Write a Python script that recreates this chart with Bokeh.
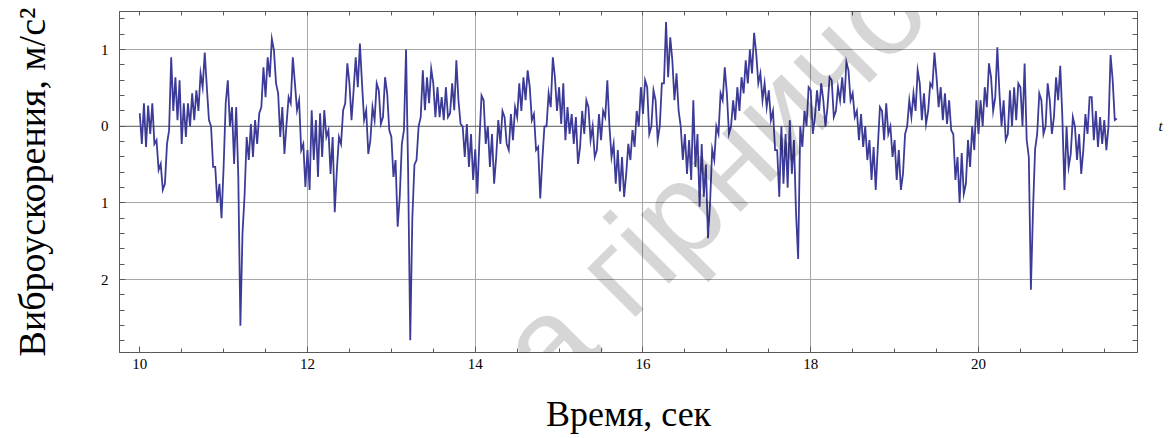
import math

from bokeh.embed import file_html
from bokeh.models import (ColumnDataSource, CustomJSTickFormatter, FixedTicker,
                          Label, LinearAxis, Range1d, Span)
from bokeh.plotting import figure
from bokeh.resources import INLINE

# Vibration acceleration record, m/s^2, sampled every 0.025 s from t = 10 s
t0 = 10.0
dt = 0.025
accel = [
    0.17, -0.23, 0.30, -0.27, 0.27, -0.10, 0.30, -0.23, -0.18, -0.57, -0.49, -0.83, -0.75, -0.23, -0.05, 0.90, 0.20, 0.64, 0.08, 0.60,
    -0.23, 0.30, -0.14, 0.30, 0.00, 0.43, 0.08, 0.47, 0.20, 0.69, 0.51, 0.96, 0.51, 0.08, 0.00, -0.53, -0.53, -1.00, -0.75, -1.20,
    -0.53, 0.30, 0.60, 0.00, 0.25, -0.49, 0.25, -0.66, -2.60, -1.40, -0.90, -0.14, -0.44, 0.03, -0.40, 0.08, -0.23, 0.17, 0.25, 0.77,
    0.38, 0.90, 0.64, 1.14, 0.99, 0.56, 0.43, -0.14, 0.25, -0.36, 0.03, 0.38, 0.30, 0.90, 0.56, 0.21, 0.34, -0.31, -0.23, -0.79,
    -0.31, -0.83, 0.21, -0.44, 0.08, -0.66, 0.17, -0.40, 0.21, -0.14, -0.05, -0.62, -0.14, -1.12, -0.57, -0.14, -0.23, 0.21, 0.30, 0.82,
    0.56, 0.08, 0.47, 0.90, 0.51, 1.08, 0.56, 0.08, 0.21, -0.36, -0.18, 0.25, 0.08, 0.56, 0.47, 0.03, 0.12, 0.64, 0.43, -0.05,
    -0.14, -0.66, -0.44, -1.31, -0.92, -0.23, -0.05, 1.00, -0.60, -2.79, -1.20, -0.50, -0.44, 0.00, 0.12, 0.73, 0.21, 0.64, 0.30, 0.75,
    0.56, 0.12, 0.51, 0.12, 0.38, 0.08, 0.51, 0.12, 0.17, 0.56, 0.21, 0.86, 0.34, 0.03, 0.00, -0.40, 0.03, -0.53, -0.10, -0.70,
    -0.30, -0.88, -0.18, 0.40, 0.34, -0.23, 0.00, -0.53, -0.10, -0.75, -0.40, 0.08, -0.23, 0.20, 0.12, -0.23, -0.31, 0.16, -0.18, 0.25,
    0.12, 0.56, 0.20, 0.64, 0.34, 0.73, 0.51, 0.08, 0.16, -0.31, -0.27, -0.94, -0.44, 0.00, 0.00, 0.43, 0.25, 0.90, 0.64, 0.20,
    0.51, 0.03, 0.56, -0.18, 0.25, -0.10, 0.16, -0.23, 0.12, -0.49, -0.27, 0.20, -0.10, 0.34, 0.25, -0.18, 0.00, -0.40, -0.31, 0.16,
    -0.18, 0.20, 0.12, 0.60, 0.00, -0.40, -0.23, -0.75, -0.31, -0.85, -0.40, -0.92, -0.62, -0.23, -0.44, -0.05, -0.27, 0.20, 0.00, 0.51,
    0.16, 0.60, 0.51, -0.10, 0.00, 0.47, 0.34, -0.18, 0.00, 0.56, 0.56, 1.36, 0.64, 1.16, 0.86, 0.34, 0.69, 0.20, 0.00, -0.44,
    -0.10, -0.62, -0.18, -0.70, 0.34, -0.53, -0.10, -1.05, -0.23, -0.92, -0.50, -1.46, -1.00, -0.30, -0.44, 0.00, -0.10, 0.43, 0.34, 0.77,
    0.43, -0.10, 0.00, 0.34, 0.08, 0.51, 0.20, 0.64, 0.43, 0.86, 0.56, 1.00, 0.69, 1.22, 0.95, 0.56, 0.69, 0.34, 0.56, 0.25,
    0.47, 0.08, 0.20, -0.31, -0.31, -0.92, 0.00, -0.75, -0.10, -0.80, 0.08, -0.62, -0.18, -1.14, -1.73, 0.00, -0.27, 0.20, 0.00, 0.51,
    0.47, -0.10, 0.12, 0.47, 0.20, 0.56, 0.34, 0.00, 0.25, 0.64, 0.60, 0.12, 0.20, 0.51, 0.34, 0.64, 0.30, 0.84, 0.73, 0.34,
    0.43, 0.12, 0.20, -0.18, 0.16, -0.27, 0.00, -0.44, -0.18, -0.70, -0.27, -0.83, -0.27, 0.25, 0.20, -0.18, 0.30, -0.10, 0.00, -0.40,
    -0.18, -0.70, -0.31, -0.83, -0.62, -0.10, 0.00, 0.34, 0.12, 0.43, 0.20, 0.73, 0.56, 0.08, 0.43, 0.03, 0.20, 0.56, 0.51, 0.96,
    0.64, 0.25, 0.51, 0.08, 0.43, 0.03, 0.34, -0.05, -0.10, -0.70, -0.40, -1.00, -0.35, -0.88, -0.75, -0.18, -0.53, 0.00, -0.31, 0.34,
    -0.10, 0.34, 0.00, 0.51, 0.25, 0.82, 0.64, 0.20, 0.38, 1.03, 0.43, 0.00, 0.34, -0.18, -0.10, 0.47, 0.00, 0.51, 0.08, 0.56,
    0.51, 0.00, 0.82, -0.18, -0.40, -2.13, -1.10, -0.30, -0.10, 0.43, 0.34, -0.10, 0.00, 0.56, 0.34, -0.10, 0.12, 0.64, 0.34, 0.79,
    0.12, -0.83, 0.00, -0.53, -0.36, 0.12, 0.00, -0.44, -0.10, -0.62, -0.31, 0.16, -0.10, 0.38, 0.38, -0.18, 0.20, -0.27, 0.12, -0.23,
    0.08, -0.31, 0.00, 0.93, 0.60, 0.08, 0.10,
]
time = [t0 + k * dt for k in range(len(accel))]

x_major = [10, 12, 14, 16, 18, 20]
x_minor = [10 + 0.5 * k for k in range(24)]
x_grid = [12, 14, 16, 18, 20]
y_major = [-2, -1, 0, 1]
y_minor = [round(-2.8 + 0.2 * k, 1) for k in range(22)]
y_grid = [-2, -1, 1]

x_title = "Время, сек"
y_title = "Виброускорения, м/с²"
stamp = "Кафедра гірничої механіки"

SERIF = "Liberation Serif"
FRAME_L, FRAME_R, FRAME_T, FRAME_B = 119, 1137, 11, 352
W, H = 1172, 438

p = figure(
    width=W, height=H,
    x_range=Range1d(9.7586, 21.896), y_range=Range1d(-2.95, 1.497),
    output_backend="svg", toolbar_location=None,
    min_border_left=FRAME_L, min_border_right=W - FRAME_R,
    min_border_top=FRAME_T, min_border_bottom=H - FRAME_B,
    x_axis_location=None, y_axis_location=None,
)
p.background_fill_color = "white"
p.border_fill_color = "white"
p.outline_line_color = "#5a5a5a"
p.outline_line_width = 1


def make_axis(ticker, minor_len):
    ax = LinearAxis(ticker=ticker)
    ax.axis_line_color = "#5a5a5a"
    ax.major_tick_line_color = "#5a5a5a"
    ax.minor_tick_line_color = "#5a5a5a"
    ax.major_tick_in = 6
    ax.major_tick_out = 0
    ax.minor_tick_in = minor_len
    ax.minor_tick_out = 0
    ax.major_label_text_font = SERIF
    ax.major_label_text_color = "black"
    ax.major_label_text_font_size = "15px"
    ax.axis_label_text_font = SERIF
    ax.axis_label_text_font_style = "normal"
    ax.axis_label_text_color = "black"
    return ax


bottom = make_axis(FixedTicker(ticks=x_major, minor_ticks=x_minor), 4)
bottom.major_label_standoff = 6
bottom.axis_label = x_title
bottom.axis_label_text_font_size = "36px"
bottom.axis_label_standoff = 22

left = make_axis(FixedTicker(ticks=y_major, minor_ticks=y_minor), 5)
left.major_label_standoff = 11
left.formatter = CustomJSTickFormatter(code="return Math.abs(tick).toFixed(0);")
left.axis_label = y_title
left.axis_label_text_font_size = "38px"
left.axis_label_standoff = 45

# Top frame edge: unlabelled ticks only
top = make_axis(FixedTicker(ticks=[], minor_ticks=x_minor), 4)

# Right frame edge: unlabelled ticks, plus the italic t marker beside the zero line
right_minor = [v for v in y_minor] + [v for v in y_major if v != 0]
right = make_axis(FixedTicker(ticks=[0], minor_ticks=right_minor), 5)
right.formatter = CustomJSTickFormatter(code='return "t";')
right.major_label_text_font_style = "italic"
right.major_label_standoff = 21

p.add_layout(bottom, "below")
p.add_layout(left, "left")
p.add_layout(top, "above")
p.add_layout(right, "right")

p.xgrid.ticker = FixedTicker(ticks=x_grid)
p.ygrid.ticker = FixedTicker(ticks=y_grid)
for g in (p.xgrid, p.ygrid):
    g.grid_line_color = "#a6a6a6"
    g.grid_line_width = 1

p.add_layout(Span(location=0, dimension="width", line_color="#555555",
                  line_width=1, level="underlay"))

src = ColumnDataSource(dict(t=time, a=accel))
p.line("t", "a", source=src, line_color="#3c3c98", line_width=1.8,
       line_join="miter")

# Diagonal department stamp across the page
p.add_layout(Label(x=67, y=-350, x_units="screen", y_units="screen",
                   text=stamp, text_font="Liberation Sans", text_font_size="130px",
                   angle=math.pi / 4, text_align="left", text_baseline="alphabetic",
                   text_color="black", text_alpha=0.16, level="overlay"))

open("out.html", "w").write(file_html(p, INLINE))
